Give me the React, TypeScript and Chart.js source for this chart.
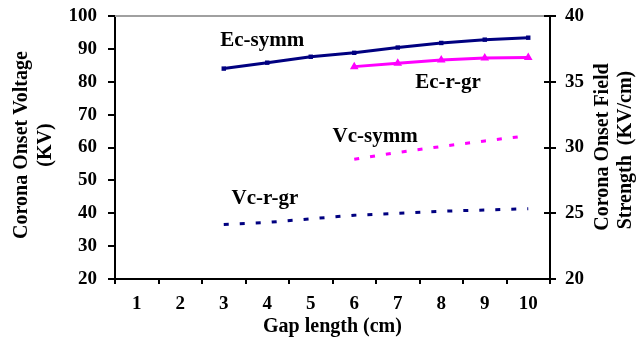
import React, { useEffect, useRef } from "react";
import { Chart, registerables } from "chart.js";

Chart.register(...registerables);

// Gap length categories (cm)
const gapLabels = ["1", "2", "3", "4", "5", "6", "7", "8", "9", "10"];

// Corona onset field strength (KV/cm), right axis
const ecSymm = [null, null, 36.0, 36.45, 36.9, 37.2, 37.6, 37.95, 38.2, 38.35];
const ecRgr = [null, null, null, null, null, 36.15, 36.4, 36.65, 36.8, 36.85];

// Corona onset voltage (KV), left axis
const vcSymm = [null, null, null, null, null, 56.4, 58.5, 60.3, 62.0, 63.6];
const vcRgr = [null, null, 36.6, 37.2, 38.3, 39.4, 40.0, 40.6, 41.0, 41.4];

// Series name labels placed next to their curves (category index, left-axis value)
const seriesNames = ["Ec-symm", "Ec-r-gr", "Vc-symm", "Vc-r-gr"];
const nameAnchorX = [1.92, 6.4, 4.5, 2.18];
const nameAnchorY = [92.6, 79.6, 63.3, 44.4];

const NAVY = "#000080";
const MAGENTA = "#ff00ff";
const SERIF = "'Liberation Serif', 'Times New Roman', serif";

const decorPlugin = {
  id: "decor",
  afterDraw(chart: any) {
    const { ctx, chartArea } = chart;
    const x = chart.scales.x;
    const yl = chart.scales.y;
    const yr = chart.scales.y1;
    ctx.save();

    // light frame line along the top of the plot
    ctx.strokeStyle = "#a0a0a0";
    ctx.lineWidth = 2;
    ctx.beginPath();
    ctx.moveTo(chartArea.left, chartArea.top);
    ctx.lineTo(chartArea.right, chartArea.top);
    ctx.stroke();

    // inner half of the right-axis tick marks
    ctx.strokeStyle = "#000";
    ctx.lineWidth = 2;
    for (const t of yr.ticks) {
      const py = Math.round(yr.getPixelForValue(t.value));
      ctx.beginPath();
      ctx.moveTo(chartArea.right - 6, py);
      ctx.lineTo(chartArea.right, py);
      ctx.stroke();
    }

    // series name labels
    ctx.fillStyle = "#000";
    ctx.font = `bold 21px ${SERIF}`;
    ctx.textAlign = "left";
    ctx.textBaseline = "middle";
    seriesNames.forEach((name, i) => {
      ctx.fillText(name, x.getPixelForValue(nameAnchorX[i]), yl.getPixelForValue(nameAnchorY[i]));
    });

    // axis titles (all read bottom-to-top)
    ctx.font = `bold 20px ${SERIF}`;
    ctx.textAlign = "center";
    const vTitle = (text: string, cx: number, cy: number) => {
      ctx.save();
      ctx.translate(cx, cy);
      ctx.rotate(-Math.PI / 2);
      ctx.fillText(text, 0, 0);
      ctx.restore();
    };
    vTitle("Corona Onset Voltage", 22, 145);
    vTitle("(KV)", 46, 145);
    vTitle("Corona Onset Field", 603, 147);
    vTitle("Strength  (KV/cm)", 626, 150);

    ctx.fillText("Gap length (cm)", (chartArea.left + chartArea.right) / 2, 327);
    ctx.restore();
  },
};

// keep the plot box fixed: no automatic room reserved for end tick labels
const noEndPadding = (s: any) => {
  s.paddingTop = 0;
  s.paddingBottom = 0;
  s.paddingLeft = 0;
  s.paddingRight = 0;
};

export default function App() {
  const canvasRef = useRef<HTMLCanvasElement | null>(null);

  useEffect(() => {
    document.body.style.margin = "0";
    const canvas = canvasRef.current;
    if (!canvas) return;
    const tickFont = { family: SERIF, size: 19, weight: "bold" as const };

    const chart = new Chart(canvas, {
      type: "line",
      data: {
        labels: gapLabels,
        datasets: [
          {
            label: "Ec-symm",
            data: ecSymm,
            yAxisID: "y1",
            borderColor: NAVY,
            backgroundColor: NAVY,
            borderWidth: 3,
            pointStyle: "rect",
            pointRadius: 1,
            tension: 0,
          },
          {
            label: "Ec-r-gr",
            data: ecRgr,
            yAxisID: "y1",
            borderColor: MAGENTA,
            backgroundColor: MAGENTA,
            borderWidth: 3,
            pointStyle: "triangle",
            pointRadius: 2,
            tension: 0,
          },
          {
            label: "Vc-symm",
            data: vcSymm,
            yAxisID: "y",
            borderColor: MAGENTA,
            backgroundColor: MAGENTA,
            borderWidth: 3,
            borderDash: [5, 11],
            pointRadius: 0,
            tension: 0,
          },
          {
            label: "Vc-r-gr",
            data: vcRgr,
            yAxisID: "y",
            borderColor: NAVY,
            backgroundColor: NAVY,
            borderWidth: 3,
            borderDash: [5, 11],
            pointRadius: 0,
            tension: 0,
          },
        ],
      },
      options: {
        animation: false,
        responsive: false,
        layout: { padding: { top: 16, left: 0, right: 0, bottom: 0 } },
        plugins: { legend: { display: false }, tooltip: { enabled: false } },
        scales: {
          x: {
            type: "category",
            offset: true,
            grid: { offset: true, drawOnChartArea: false, color: "#000", lineWidth: 2, tickLength: 5 },
            border: { color: "#000", width: 2 },
            ticks: { color: "#000", font: tickFont, padding: 9, maxRotation: 0 },
            afterFit: (s: any) => { s.height = 70; noEndPadding(s); },
          },
          y: {
            position: "left",
            min: 20,
            max: 100,
            grid: { drawOnChartArea: false, color: "#000", lineWidth: 2, tickLength: 7 },
            border: { color: "#000", width: 2 },
            ticks: { stepSize: 10, color: "#000", font: tickFont, padding: 11 },
            afterFit: (s: any) => { s.width = 115; noEndPadding(s); },
          },
          y1: {
            position: "right",
            min: 20,
            max: 40,
            grid: { drawOnChartArea: false, color: "#000", lineWidth: 2, tickLength: 6 },
            border: { color: "#000", width: 2 },
            ticks: { stepSize: 5, color: "#000", font: tickFont, padding: 9 },
            afterFit: (s: any) => { s.width = 89; noEndPadding(s); },
          },
        },
      },
      plugins: [decorPlugin],
    });
    return () => chart.destroy();
  }, []);

  return (
    <div style={{ width: 639, height: 349, background: "#fff" }}>
      <canvas ref={canvasRef} width={639} height={349} style={{ display: "block" }} />
    </div>
  );
}
